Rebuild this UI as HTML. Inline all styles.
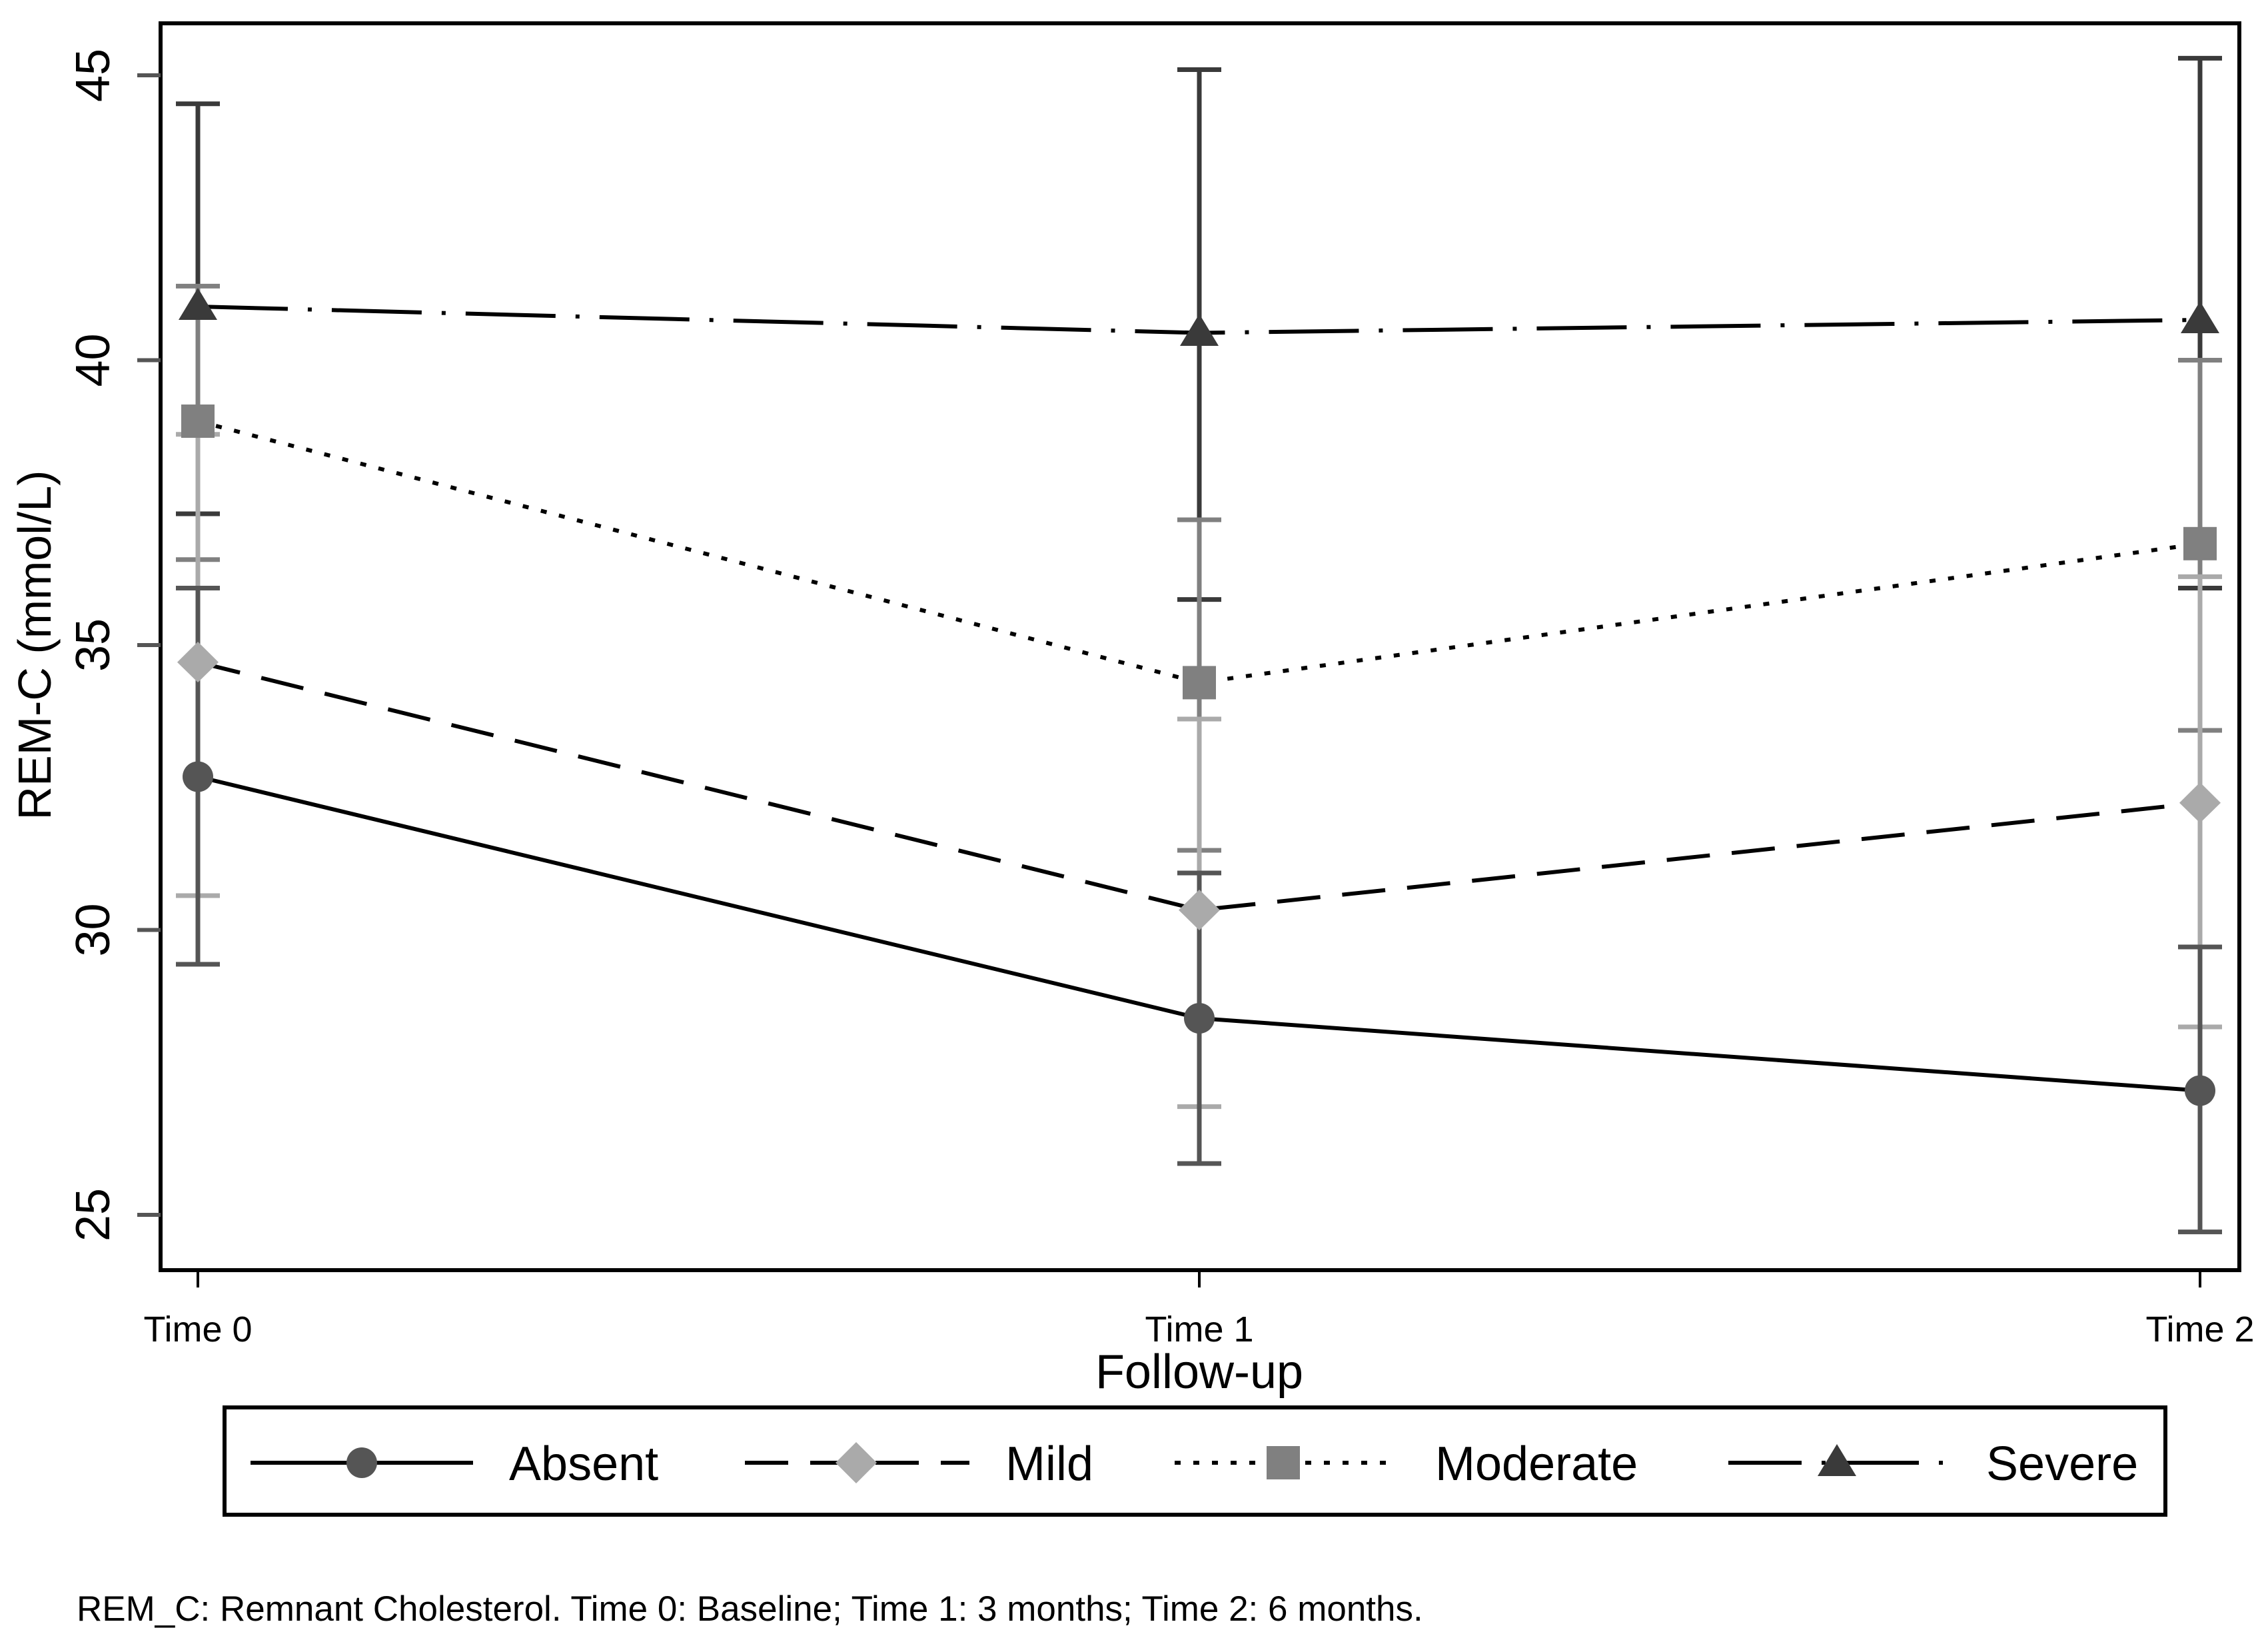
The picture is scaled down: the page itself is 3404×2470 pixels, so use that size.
<!DOCTYPE html>
<html><head><meta charset="utf-8"><style>html,body{margin:0;padding:0;background:#fff}svg{display:block}</style></head>
<body>
<svg width="3404" height="2470" viewBox="0 0 3404 2470" xmlns="http://www.w3.org/2000/svg" font-family="Liberation Sans, Arial, sans-serif">
<rect width="3404" height="2470" fill="#fff"/>
<rect x="241" y="35" width="3120" height="1871" fill="none" stroke="#000" stroke-width="6"/>
<g stroke="#555" stroke-width="6">
<line x1="206" y1="113" x2="241" y2="113"/>
<line x1="206" y1="540.5" x2="241" y2="540.5"/>
<line x1="206" y1="968" x2="241" y2="968"/>
<line x1="206" y1="1395.5" x2="241" y2="1395.5"/>
<line x1="206" y1="1823" x2="241" y2="1823"/>
</g>
<g font-size="72" fill="#000" text-anchor="middle">
<text transform="translate(164,113) rotate(-90)">45</text>
<text transform="translate(164,540.5) rotate(-90)">40</text>
<text transform="translate(164,968) rotate(-90)">35</text>
<text transform="translate(164,1395.5) rotate(-90)">30</text>
<text transform="translate(164,1823) rotate(-90)">25</text>
<text transform="translate(76,968) rotate(-90)" font-size="70">REM-C (mmol/L)</text>
</g>
<g stroke="#000" stroke-width="4">
<line x1="297" y1="1906" x2="297" y2="1932"/>
<line x1="1800" y1="1906" x2="1800" y2="1932"/>
<line x1="3302" y1="1906" x2="3302" y2="1932"/>
</g>
<g font-size="54" text-anchor="middle" fill="#000">
<text x="297" y="2013">Time 0</text>
<text x="1800" y="2013">Time 1</text>
<text x="3302" y="2013">Time 2</text>
<text x="1800" y="2083" font-size="72">Follow-up</text>
</g>
<g stroke-width="7" fill="none">
<g stroke="#3a3a3a">
<path d="M297 771V155.8M264 771H330M264 155.8H330"/>
<path d="M1800 899.6V104.5M1767 899.6H1833M1767 104.5H1833"/>
<path d="M3302 882.5V87.4M3269 882.5H3335M3269 87.4H3335"/>
</g>
<g stroke="#808080">
<path d="M297 839.8V429.4M264 839.8H330M264 429.4H330"/>
<path d="M1800 1276V780M1767 1276H1833M1767 780H1833"/>
<path d="M3302 1096V540.5M3269 1096H3335M3269 540.5H3335"/>
</g>
<g stroke="#aaa">
<path d="M297 1344V651.7M264 1344H330M264 651.7H330"/>
<path d="M1800 1660.6V1079M1767 1660.6H1833M1767 1079H1833"/>
<path d="M3302 1541V865.4M3269 1541H3335M3269 865.4H3335"/>
</g>
<g stroke="#555">
<path d="M297 1447V882.5M264 1447H330M264 882.5H330"/>
<path d="M1800 1746V1310M1767 1746H1833M1767 1310H1833"/>
<path d="M3302 1848.6V1421M3269 1848.6H3335M3269 1421H3335"/>
</g>
</g>
<g fill="none" stroke="#000" stroke-width="6">
<polyline points="297,1165.5 1800,1528 3302,1636.6"/>
<polyline points="297,993.7 1800,1365.6 3302,1204.8" stroke-dasharray="65,33"/>
<polyline points="297,632 1800,1024.4 3302,815.8" stroke-dasharray="9,19"/>
<polyline points="297,460 1800,499.5 3302,480" stroke-dasharray="135,30,6,30"/>
</g>
<g fill="#555"><circle cx="297" cy="1165.5" r="23"/><circle cx="1800" cy="1528" r="23"/><circle cx="3302" cy="1636.6" r="23"/></g>
<g fill="#aaa">
<polygon points="297,963 328,993.7 297,1024 266,993.7"/>
<polygon points="1800,1335 1831,1365.6 1800,1396 1769,1365.6"/>
<polygon points="3302,1174 3333,1204.8 3302,1235 3271,1204.8"/>
</g>
<g fill="#808080">
<rect x="272" y="607" width="50" height="50"/>
<rect x="1775" y="999.4" width="50" height="50"/>
<rect x="3277" y="790.8" width="50" height="50"/>
</g>
<g fill="#3a3a3a">
<polygon points="297,432 326,480 268,480"/>
<polygon points="1800,471 1829,519 1771,519"/>
<polygon points="3302,452 3331,500 3273,500"/>
</g>
<rect x="337" y="2112" width="2913" height="161" fill="none" stroke="#000" stroke-width="6"/>
<g stroke="#000" stroke-width="6" fill="none">
<line x1="376" y1="2195" x2="710" y2="2195"/>
<line x1="1118" y1="2195" x2="1455" y2="2195" stroke-dasharray="65,33"/>
<line x1="1763" y1="2195" x2="2089" y2="2195" stroke-dasharray="9,19"/>
<line x1="2594" y1="2195" x2="2926" y2="2195" stroke-dasharray="110,30,6,30"/>
</g>
<circle cx="543" cy="2195" r="23" fill="#555"/>
<polygon points="1285,2164 1316,2195 1285,2226 1254,2195" fill="#aaa"/>
<rect x="1901" y="2170" width="50" height="50" fill="#808080"/>
<polygon points="2757,2167 2786,2215 2728,2215" fill="#3a3a3a"/>
<g font-size="72" fill="#000">
<text x="764" y="2221">Absent</text>
<text x="1509" y="2221">Mild</text>
<text x="2154" y="2221">Moderate</text>
<text x="2981" y="2221">Severe</text>
</g>
<text x="115" y="2432" font-size="53" fill="#000">REM_C: Remnant Cholesterol. Time 0: Baseline; Time 1: 3 months; Time 2: 6 months.</text>
</svg>
</body></html>
